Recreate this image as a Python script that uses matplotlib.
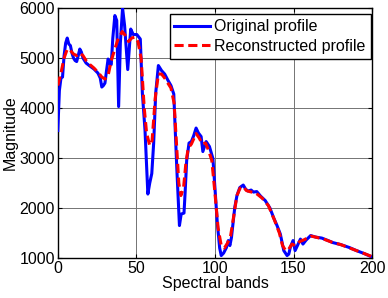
import matplotlib
matplotlib.use("Agg")
import matplotlib.pyplot as plt

plt.rcParams['font.family'] = ['Liberation Sans', 'DejaVu Sans']

orig_bands = [0, 1, 2, 3, 4, 5, 6, 7, 8, 9, 10, 11, 12, 13, 14, 15, 16, 18, 20, 23, 25.5, 27, 28, 29, 30, 31, 32, 33, 34, 35,
              36.3, 37.5, 38.7, 39.8, 41.2, 42.5, 44.5, 46.4, 48, 50.3, 52.5, 53.8, 55.5, 57.3, 58.5, 59.8, 61, 62.3, 64,
              66, 68, 70, 72, 73.8, 75.7, 77.4, 78.5, 80.3, 81, 82, 83.5, 85, 86.5, 88, 89.5, 91.2, 92.3, 94.4, 96.5, 98.7,
              100, 101.5, 103, 104, 105.5, 107.3, 108.5, 109.5, 110.5, 112.6, 114, 115.8, 118, 119.5, 121, 123, 124.5,
              126.6, 129, 132, 135, 137.3, 139.5, 141.6, 143.8, 145.9, 147, 148, 149.7, 151, 152.5, 154.4, 156, 158,
              160.9, 164, 168, 172, 175, 180, 185.6, 190, 195, 200]
orig_vals = [3550, 4350, 4600, 4620, 5050, 5300, 5400, 5280, 5250, 5100, 5000, 4950, 4930, 5050, 5180, 5120, 5000, 4900,
             4850, 4780, 4700, 4600, 4420, 4450, 4500, 4750, 4980, 4900, 4870, 5400, 5850, 5750, 4030, 5300, 6000, 5650,
             4770, 5580, 5470, 5470, 5380, 4300, 3550, 2280, 2500, 2690, 3300, 4300, 4850, 4750, 4680, 4560, 4450, 4280,
             2810, 1650, 1880, 1900, 2300, 2950, 3300, 3330, 3450, 3600, 3500, 3430, 3130, 3330, 3230, 2990, 2400, 1700,
             1200, 1050, 1100, 1210, 1350, 1250, 1410, 2010, 2250, 2410, 2460, 2380, 2340, 2360, 2320, 2330, 2240, 2150,
             2000, 1810, 1650, 1480, 1150, 1050, 1080, 1220, 1350, 1150, 1250, 1380, 1280, 1360, 1450, 1420, 1400, 1350,
             1310, 1270, 1210, 1150, 1090, 1020]

recon_bands = [0, 2, 4, 6, 8, 10, 12, 14, 16, 18, 20, 23, 26, 28, 30, 32, 34, 36, 38, 41, 43, 45, 47, 49, 51, 53, 55, 56.5,
               58.5, 60, 62, 64, 66, 68, 70, 72, 74, 75.5, 77, 78.3, 80, 81.5, 83, 85, 88, 90, 92, 94, 96, 98, 100, 102,
               104, 106, 108, 110, 112, 114, 116, 118, 120, 122, 126, 130, 134, 138, 141, 143, 145, 147, 149, 151, 154,
               157, 161, 164, 170, 175, 180, 185, 190, 195, 200]
recon_vals = [4450, 4700, 5000, 5180, 5150, 5080, 5050, 5100, 5050, 4950, 4880, 4800, 4700, 4620, 4580, 4650, 4950, 5150,
              5350, 5530, 5450, 5330, 5400, 5420, 5330, 5000, 4000, 3500, 3250, 3350, 4200, 4680, 4680, 4600, 4500, 4400,
              4100, 3300, 2500, 2250, 2400, 2900, 3200, 3280, 3490, 3400, 3280, 3300, 3150, 2950, 2300, 1600, 1250, 1200,
              1300, 1450, 1850, 2250, 2400, 2430, 2350, 2330, 2300, 2200, 2050, 1750, 1500, 1250, 1150, 1180, 1280, 1250,
              1330, 1370, 1440, 1420, 1370, 1310, 1270, 1210, 1150, 1090, 1030]

xticks = [0, 50, 100, 150, 200]
yticks = [1000, 2000, 3000, 4000, 5000, 6000]

fig = plt.figure(figsize=(3.88, 2.98), dpi=100)
ax = fig.add_axes([0.149, 0.134, 0.81, 0.839])

ax.plot(orig_bands, orig_vals, color='#0000ff', lw=2.2, label='Original profile', zorder=3)
ax.plot(recon_bands, recon_vals, color='#ff0000', lw=2.2, ls=(0, (3, 1.5)), label='Reconstructed profile', zorder=4)

ax.set_xlim(0, 200)
ax.set_ylim(1000, 6000)
ax.set_xticks(xticks)
ax.set_yticks(yticks)
ax.grid(True, color='0.45', lw=0.7)
ax.set_axisbelow(True)
ax.tick_params(direction='in', top=True, right=True, labelsize=11.5, length=3, pad=2)
for s in ax.spines.values():
    s.set_linewidth(1.0)
ax.set_xlabel('Spectral bands', fontsize=11.5, labelpad=0)
ax.set_ylabel('Magnitude', fontsize=11.5, labelpad=1)

leg = ax.legend(loc='upper right', fontsize=11.5, frameon=True, fancybox=False, edgecolor='black',
                borderpad=0.3, handlelength=2.2, handletextpad=0.3, labelspacing=0.3,
                borderaxespad=0.35, framealpha=1, bbox_to_anchor=(1.013, 0.997))
leg.get_frame().set_linewidth(1.0)

fig.savefig('out.png', dpi=100)
